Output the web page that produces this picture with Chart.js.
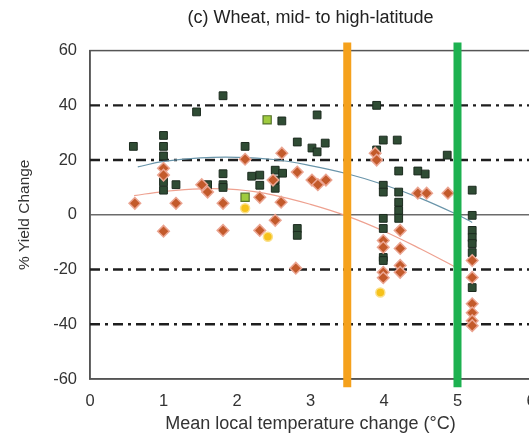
<!DOCTYPE html>
<html>
<head>
<meta charset="utf-8">
<script src="https://cdn.jsdelivr.net/npm/chart.js@4"></script>
<style>
  html, body { margin: 0; padding: 0; background: #fff; overflow: hidden; }
  #wrap { width: 529px; height: 439px; overflow: hidden; }
</style>
</head>
<body>
<div id="wrap"><canvas id="chart" width="541" height="439"></canvas></div>
<script>
// dark green squares (study results, no adaptation)
const greenX = [0.59, 1.0, 1.0, 1.0, 1.0, 1.0, 1.17, 1.45, 1.6, 1.81, 1.81, 1.81, 1.81,
  2.11, 2.2, 2.31, 2.31, 2.52, 2.62, 2.52, 2.52, 2.61, 2.82, 2.82, 2.82,
  3.02, 3.09, 3.2, 3.09, 3.9, 3.99, 4.18, 3.9,
  4.2, 4.2, 4.2, 4.2, 4.2, 3.99, 3.99, 3.99, 3.99, 3.99, 3.99,
  4.46, 4.56, 4.86, 5.2, 5.2, 5.2, 5.2, 5.2, 5.2, 5.2];
const greenY = [25, 29, 25, 21.5, 12, 9, 11, 37.6, 11, 11, 43.5, 15, 10,
  25, 14.1, 14.5, 10.8, 16.3, 15.2, 12.7, 9.7, 34.3, 26.6, -5, -7.5,
  24.4, 23, 26.2, 36.5, 40, 27.3, 27.3, 23.7,
  16, 8.3, 4.6, 1.6, -1.3, 10.8, 8.3, -1.3, -5, -15.6, -16.7,
  16, 14.9, 21.8, 9, -0.2, -5.7, -8.3, -10.5, -13.8, -26.6];

// light green squares
const limeX = [2.41, 2.11];
const limeY = [34.7, 6.4];

// orange diamonds
const diamondX = [0.61, 1.0, 1.0, 1.0, 1.17, 1.52, 1.6, 1.81, 1.81, 2.11, 2.31, 2.31,
  2.49, 2.52, 2.6, 2.61, 2.82, 2.8, 3.02, 3.1, 3.21, 3.88, 3.9,
  4.46, 4.58, 4.87, 4.22, 4.22, 4.22, 4.22, 3.99, 3.99, 3.99, 3.99,
  5.2, 5.2, 5.2, 5.2, 5.2, 5.2];
const diamondY = [4.2, 17, 14.5, -6, 4.2, 11, 8.3, 4.2, -5.7, 20.3, 6.4, -5.7,
  12.7, -2, 4.6, 22.5, 15.6, -19.5, 12.7, 11, 12.7, 22.5, 20,
  7.9, 7.9, 7.9, -5.7, -12.3, -18.5, -21, -9.4, -11.9, -21, -23,
  -16.7, -22.9, -32.5, -35.8, -38.7, -40.5];

// yellow circles
const yellowX = [2.11, 2.42, 3.95];
const yellowY = [2.4, -8, -28.4];

// fitted curves
const blueFitX = [0.65, 1.0, 1.5, 2.0, 2.5, 3.0, 3.5, 4.0, 4.5, 5.0, 5.2];
const blueFitY = [17.5, 19.5, 20.8, 21, 20.2, 18, 15, 11, 6, 0, -2.8];
const pinkFitX = [0.6, 1.0, 1.5, 2.0, 2.5, 3.0, 3.5, 4.0, 4.5, 5.0];
const pinkFitY = [7, 8.5, 9.5, 9.2, 7.2, 3.8, -0.5, -6, -12.5, -19.5];

// reference lines
const refLevels = [40, 20, -20, -40];
const orangeX = 3.5;
const greenLineX = 5;
const vLineSpan = [63, -63];

const xTicks = [0, 1, 2, 3, 4, 5, 6];
const yTicks = [-60, -40, -20, 0, 20, 40, 60];

const pts = (xs, ys) => xs.map((x, i) => ({ x: x, y: ys[i] }));

const datasets = [];

datasets.push({
    data: vLineSpan.map(y => ({ x: orangeX, y: y })),
    showLine: true, borderColor: "#f5a11c", borderWidth: 8, pointRadius: 0,
    clip: false, order: 0
});
datasets.push({
    data: vLineSpan.map(y => ({ x: greenLineX, y: y })),
    showLine: true, borderColor: "#1db150", borderWidth: 8, pointRadius: 0,
    clip: false, order: 0
});

datasets.push({
    data: pts(yellowX, yellowY), pointStyle: "circle", pointRadius: 4.5,
    backgroundColor: "#f6c21a", borderColor: "#fbe08a", borderWidth: 1.5, order: 1
});
datasets.push({
    data: pts(diamondX, diamondY), pointStyle: "rectRot", pointRadius: 5.8,
    backgroundColor: "#c35a2b", borderColor: "#eba592", borderWidth: 1.5, order: 2
});
datasets.push({
    data: pts(limeX, limeY), pointStyle: "rect", pointRadius: 5.8,
    backgroundColor: "#9fcb3e", borderColor: "#56732d", borderWidth: 1.2, order: 3
});
datasets.push({
    data: pts(greenX, greenY), pointStyle: "rect", pointRadius: 5.5,
    backgroundColor: "#2f4c34", borderColor: "#1c2b1f", borderWidth: 1, order: 4
});

datasets.push({
    data: pts(blueFitX, blueFitY), showLine: true, tension: 0.4,
    borderColor: "#6a95aa", borderWidth: 1.2, pointRadius: 0, order: 5
});
datasets.push({
    data: pts(pinkFitX, pinkFitY), showLine: true, tension: 0.4,
    borderColor: "#eea190", borderWidth: 1.2, pointRadius: 0, order: 5
});

refLevels.forEach(lv => {
    datasets.push({
        data: [{ x: 0, y: lv }, { x: 6, y: lv }],
        showLine: true, borderColor: "#1e1e1e", borderWidth: 2.4,
        borderDash: [10, 5, 3, 5], pointRadius: 0, order: 6
    });
});

// plot frame (top and right edges)
const frame = {
    id: "frame",
    beforeDatasetsDraw(chart) {
        const a = chart.chartArea, c = chart.ctx;
        c.save();
        c.strokeStyle = "#555";
        c.lineWidth = 1.5;
        c.strokeRect(a.left, a.top, a.right - a.left, a.bottom - a.top);
        c.restore();
    }
};

const font = "'Liberation Sans', Arial, sans-serif";

new Chart(document.getElementById("chart"), {
    type: "scatter",
    data: { datasets: datasets },
    plugins: [frame],
    options: {
        responsive: false,
        animation: false,
        layout: { padding: { left: 0, right: 10, top: 0, bottom: 4 } },
        plugins: {
            legend: { display: false },
            tooltip: { enabled: false },
            title: {
                display: true,
                text: "(c) Wheat, mid- to high-latitude",
                fullSize: false,
                color: "#222",
                font: { family: font, size: 18, weight: "normal" },
                padding: { top: 7, bottom: 22 }
            }
        },
        scales: {
            x: {
                type: "linear", min: 0, max: 6,
                afterBuildTicks: s => { s.ticks = xTicks.map(v => ({ value: v })); },
                afterFit: s => { s.height = 56; s.paddingLeft = 0; s.paddingRight = 0; },
                grid: { display: false, drawTicks: false },
                border: { display: true, color: "#555", width: 1.5 },
                ticks: { color: "#333", padding: 13, font: { family: font, size: 16.5 } },
                title: {
                    display: true, text: "Mean local temperature change (°C)",
                    color: "#333", font: { family: font, size: 18 },
                    padding: { top: 0, bottom: 0 }
                }
            },
            y: {
                type: "linear", min: -60, max: 60,
                afterBuildTicks: s => { s.ticks = yTicks.map(v => ({ value: v })); },
                afterFit: s => { s.width = 90; s.paddingTop = 0; s.paddingBottom = 0; },
                grid: {
                    drawTicks: false,
                    color: c => c.tick && c.tick.value === 0 ? "#6b6b6b" : "rgba(0,0,0,0)",
                    lineWidth: 1.5
                },
                border: { display: true, color: "#555", width: 1.5 },
                ticks: { color: "#333", padding: 13, font: { family: font, size: 16.5 } },
                title: {
                    display: true, text: "% Yield Change",
                    color: "#333", font: { family: font, size: 15.5 },
                    padding: { top: 15, bottom: 0 }
                }
            }
        }
    }
});
</script>
</body>
</html>
